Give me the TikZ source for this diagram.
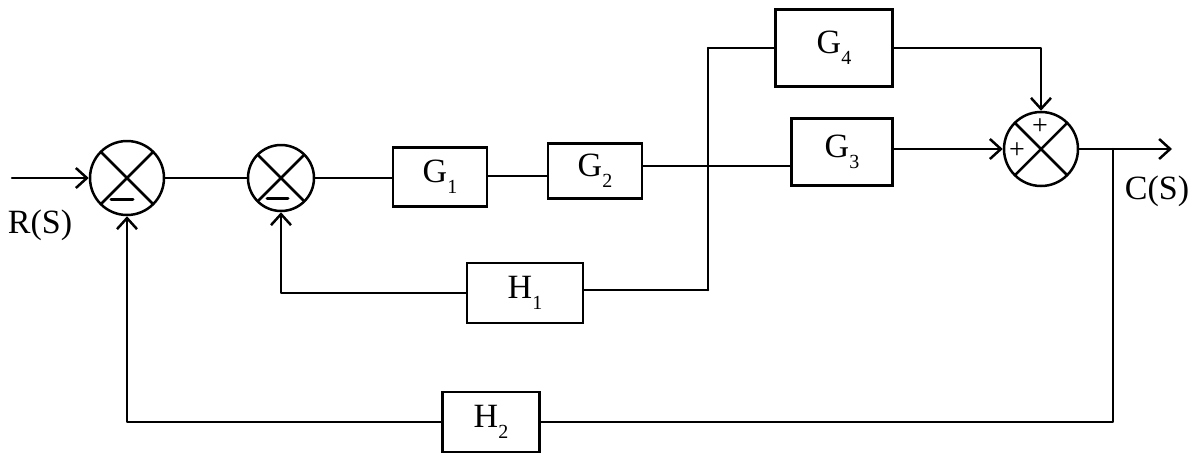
\documentclass[tikz,border=0pt]{standalone}
\usepackage{fontspec}
\setmainfont{Liberation Serif}
\usetikzlibrary{arrows.meta}
\newcommand{\blocklabel}[2]{#1\raisebox{-0.32em}{\fontsize{20}{20}\selectfont #2}}
\begin{document}
\begin{tikzpicture}[x=1pt,y=-1pt,
  wire/.style={line width=2.5pt,line join=round,line cap=round},
  sig/.style={wire,-{Straight Barb[length=11pt,width=20pt,line width=2.5pt]}},
  blockbox/.style={draw,line width=2.5pt,rectangle,inner sep=0pt,
    font=\fontsize{34}{34}\selectfont},
  summer/.style={draw,line width=2.5pt,circle,inner sep=0pt,
    path picture={
      \draw[line width=2.5pt]
        (path picture bounding box.north west) -- (path picture bounding box.south east)
        (path picture bounding box.north east) -- (path picture bounding box.south west);}},
  lbl/.style={font=\fontsize{34}{34}\selectfont,inner sep=0pt},
  sgn/.style={font=\fontsize{28}{28}\selectfont,inner sep=0pt}]
\useasboundingbox (0,0) rectangle (1194,459);

% summing junctions
\node[summer,minimum size=74pt] (s1) at (127,178) {};
\node[summer,minimum size=66pt] (s2) at (281,178) {};
\node[summer,minimum size=74pt] (s3) at (1041,149) {};

% forward and feedback blocks
\node[blockbox,minimum width=94pt,minimum height=59pt]  (g1) at (440,177) {\blocklabel{G}{1}};
\node[blockbox,minimum width=94pt,minimum height=55pt]  (g2) at (595,171) {\blocklabel{G}{2}};
\node[blockbox,minimum width=101pt,minimum height=67pt] (g3) at (842,152) {\blocklabel{G}{3}};
\node[blockbox,minimum width=117pt,minimum height=77pt] (g4) at (834,48)  {\blocklabel{G}{4}};
\node[blockbox,minimum width=116pt,minimum height=60pt] (h1) at (525,293) {\blocklabel{H}{1}};
\node[blockbox,minimum width=97pt,minimum height=60pt]  (h2) at (491,422) {\blocklabel{H}{2}};

% signs
\draw[wire,line width=3pt] (111,199) -- (133,199);
\draw[wire,line width=3pt] (267,198) -- (288,198);
\node[sgn] (p1) at (1040,127) {+};
\node[sgn] (p2) at (1017,151) {+};

% labels
\node[lbl] (rs) at (40,225) {R(S)};
\node[lbl] (cs) at (1157,191) {C(S)};

% branch points and ends
\coordinate (in) at (12,178);
\coordinate (b1) at (708,166);
\coordinate (b1t) at (708,48);
\coordinate (b1b) at (708,290);
\coordinate (b2) at (1113,149);
\coordinate (out) at (1172,149);

% forward path
\draw[sig] (in) -- (s1.west);
\draw[wire] (s1.east) -- (s2.west);
\draw[wire] (s2.east) -- (g1.west |- s2.east);
\draw[wire] (g1.east |- 0,176) -- (g2.west |- 0,176);
\draw[wire] (g2.east |- b1) -- (b1);
\draw[wire] (b1) -- (g3.west |- b1);
\draw[wire] (b1t) -- (b1b);
\draw[wire] (b1t) -- (g4.west);
\draw[sig] (g3.east |- s3.west) -- (s3.west);
\draw[sig] (g4.east) -| (s3.north);
\draw[wire] (s3.east) -- (b2);
\draw[sig] (b2) -- (out);

% feedback paths
\draw[wire] (b1b) -- (h1.east |- b1b);
\draw[sig] (h1.west) -| (s2.south);
\draw[wire] (b2) -- (b2 |- h2.east) -- (h2.east);
\draw[sig] (h2.west) -| (s1.south);
\end{tikzpicture}
\end{document}
